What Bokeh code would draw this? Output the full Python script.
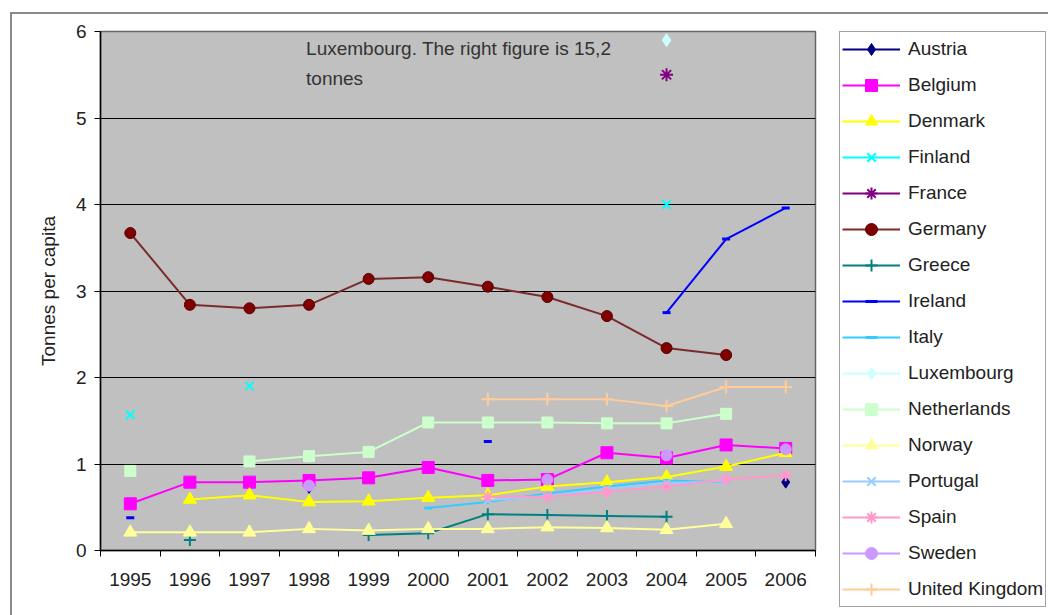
import numpy as np
from bokeh.plotting import figure
from bokeh.layouts import row
from bokeh.models import Range1d, FixedTicker, Legend, LegendItem, Label
from bokeh.embed import file_html
from bokeh.resources import INLINE

NaN = float("nan")

years = ["1995", "1996", "1997", "1998", "1999", "2000",
         "2001", "2002", "2003", "2004", "2005", "2006"]

austria     = [NaN, NaN, NaN, 0.73, NaN, NaN, NaN, NaN, NaN, NaN, NaN, 0.79]
belgium     = [0.54, 0.79, 0.79, 0.81, 0.84, 0.96, 0.81, 0.82, 1.13, 1.07, 1.22, 1.18]
denmark     = [NaN, 0.59, 0.64, 0.56, 0.57, 0.61, 0.64, 0.74, 0.79, 0.85, 0.97, 1.13]
finland     = [1.57, NaN, 1.90, NaN, NaN, NaN, NaN, NaN, NaN, 4.00, NaN, NaN]
france      = [NaN, NaN, NaN, NaN, NaN, NaN, NaN, NaN, NaN, 5.50, NaN, NaN]
germany     = [3.67, 2.84, 2.80, 2.84, 3.14, 3.16, 3.05, 2.93, 2.71, 2.34, 2.26, NaN]
greece      = [NaN, 0.12, NaN, NaN, 0.18, 0.20, 0.42, 0.41, 0.40, 0.39, NaN, NaN]
ireland     = [0.38, NaN, NaN, NaN, NaN, NaN, 1.26, NaN, NaN, 2.75, 3.60, 3.96]
italy       = [NaN, NaN, NaN, NaN, NaN, 0.49, 0.56, 0.66, 0.74, 0.81, 0.79, NaN]
luxembourg  = [NaN, NaN, NaN, NaN, NaN, NaN, NaN, NaN, NaN, 5.90, NaN, NaN]
netherlands = [0.92, NaN, 1.03, 1.09, 1.14, 1.48, 1.48, 1.48, 1.47, 1.47, 1.58, NaN]
norway      = [0.21, 0.21, 0.21, 0.25, 0.23, 0.25, 0.25, 0.27, 0.26, 0.24, 0.31, NaN]
portugal    = [NaN, NaN, NaN, NaN, NaN, NaN, 0.58, 0.63, 0.71, 0.78, 0.80, NaN]
spain       = [NaN, NaN, NaN, NaN, NaN, NaN, 0.62, 0.62, 0.68, 0.74, 0.82, 0.87]
sweden      = [NaN, NaN, NaN, 0.75, NaN, NaN, NaN, 0.82, NaN, 1.10, NaN, 1.17]
uk          = [NaN, NaN, NaN, NaN, NaN, NaN, 1.75, 1.75, 1.75, 1.67, 1.89, 1.89]

series = [
    ("Austria", austria, "#000080", "diamond", 12),
    ("Belgium", belgium, "#FF00FF", "square", 12),
    ("Denmark", denmark, "#FFFF00", "triangle", 13),
    ("Finland", finland, "#00FFFF", "x", 12),
    ("France", france, "#800080", "asterisk", 13),
    ("Germany", germany, "#800000", "circle", 11),
    ("Greece", greece, "#008080", "cross", 12),
    ("Ireland", ireland, "#0000FF", "dash", 8),
    ("Italy", italy, "#33CCFF", "dash", 8),
    ("Luxembourg", luxembourg, "#CCFFFF", "diamond", 13),
    ("Netherlands", netherlands, "#CCFFCC", "square", 11),
    ("Norway", norway, "#FFFF99", "triangle", 13),
    ("Portugal", portugal, "#99CCFF", "x", 11),
    ("Spain", spain, "#FF99CC", "asterisk", 12),
    ("Sweden", sweden, "#CC99FF", "circle", 11),
    ("United Kingdom", uk, "#FFCC99", "cross", 13),
]

y_ticks = [0, 1, 2, 3, 4, 5, 6]
x_pos = [i + 0.5 for i in range(len(years))]

FONT = "Liberation Sans"
OX, OY = 12, 14   # offset created by the outer frame (margin + border)
H = 615 - OY

p = figure(width=833 - OX, height=H, output_backend="svg", toolbar_location=None,
           x_range=Range1d(0, len(years)), y_range=Range1d(0, 6),
           min_border_left=100 - OX, min_border_right=18, min_border_top=31 - OY,
           min_border_bottom=65,
           background_fill_color="#C0C0C0", border_fill_color="white")

p.outline_line_color = "#666666"
p.outline_line_width = 1.5

p.xaxis.ticker = FixedTicker(ticks=x_pos, minor_ticks=list(range(len(years) + 1)))
p.xaxis.major_label_overrides = {x: y for x, y in zip(x_pos, years)}
p.xaxis.major_tick_out = 0
p.xaxis.major_tick_in = 0
p.xaxis.minor_tick_out = 6
p.xaxis.minor_tick_in = 0
p.xaxis.minor_tick_line_color = "black"
p.xaxis.major_label_standoff = 16

p.yaxis.ticker = FixedTicker(ticks=y_ticks)
p.yaxis.major_tick_out = 6
p.yaxis.major_tick_in = 0
p.yaxis.minor_tick_line_color = None
p.yaxis.major_label_standoff = 8
p.yaxis.axis_label = "Tonnes per capita"
p.yaxis.axis_label_standoff = 14
p.yaxis.axis_label_text_font = FONT
p.yaxis.axis_label_text_font_style = "normal"
p.yaxis.axis_label_text_font_size = "19px"
p.yaxis.axis_label_text_color = "#222222"

for ax in (p.xaxis, p.yaxis):
    ax.axis_line_color = "black"
    ax.axis_line_width = 1.5
    ax.major_tick_line_color = "black"
    ax.major_label_text_font = FONT
    ax.major_label_text_font_size = "19px"
    ax.major_label_text_color = "#222222"

p.xgrid.visible = False
p.ygrid.ticker = FixedTicker(ticks=y_ticks)
p.ygrid.grid_line_color = "black"
p.ygrid.grid_line_width = 1.2

# legend lives in its own figure placed to the right
lg = figure(width=215, height=H, output_backend="svg", toolbar_location=None,
            x_axis_type=None, y_axis_type=None, x_range=Range1d(0, 1), y_range=Range1d(0, 1),
            min_border=0, min_border_left=0, min_border_right=0, min_border_top=0,
            min_border_bottom=0, outline_line_color=None,
            background_fill_color="white", border_fill_color="white")
lg.frame_align = False
lg.xgrid.visible = False
lg.ygrid.visible = False

items = []
for name, vals, color, marker, size in series:
    xs = np.array(x_pos, dtype=float)
    ys = np.array(vals, dtype=float)
    line_col = "#7a2a2a" if name == "Germany" else color
    p.line(xs, ys, line_color=line_col, line_width=2)
    if marker in ("x", "asterisk", "cross", "dash"):
        kw = dict(line_color=color, line_width=3 if marker == "dash" else 2)
    else:
        lc = "#5a0000" if name == "Germany" else color
        kw = dict(fill_color=color, line_color=lc, line_width=1)
    p.scatter(xs, ys, marker=marker, size=size, **kw)
    # legend proxies: same styles, drawn outside the (invisible) range
    l_line = lg.line([-10, -9], [-10, -10], line_color=line_col, line_width=2)
    l_pt = lg.scatter([-10], [-10], marker=marker, size=size, **kw)
    items.append(LegendItem(label=name, renderers=[l_line, l_pt]))

legend = Legend(items=items, location=(839 - 833, (615 - 607)),
                glyph_width=58, glyph_height=30, label_height=30,
                spacing=6, padding=2, label_standoff=8, margin=0,
                label_text_font=FONT, label_text_font_size="19px",
                label_text_color="#222222",
                border_line_color="#444444", border_line_width=1.5,
                background_fill_color="white", background_fill_alpha=1.0)
lg.add_layout(legend, "center")

note = Label(x=3.45, y=5.93, text="Luxembourg. The right figure is 15,2\ntonnes",
             text_font=FONT, text_font_size="19px", text_color="#333333",
             text_baseline="top", text_align="left", text_line_height=1.45)
p.add_layout(note)

layout = row(p, lg, spacing=0,
             styles={"margin-left": "10px", "margin-top": "12px",
                     "border-left": "2px solid #8a8a8a",
                     "border-top": "2px solid #8a8a8a"})

open("out.html", "w").write(file_html(layout, INLINE))
